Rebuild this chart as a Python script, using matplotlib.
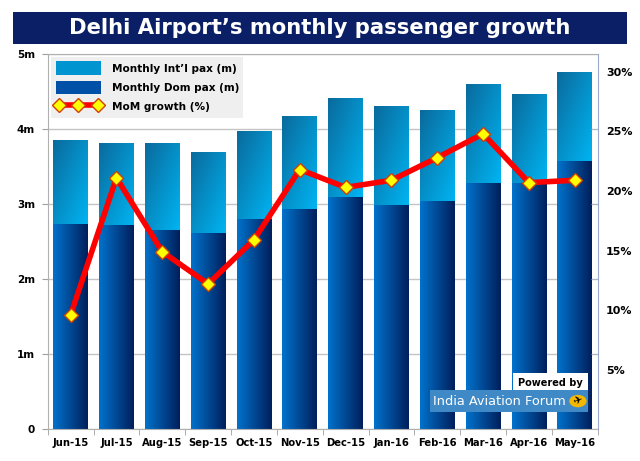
import numpy as np
import matplotlib
matplotlib.use("Agg")
import matplotlib.pyplot as plt
from matplotlib.patches import Rectangle, Circle, Patch
from matplotlib.lines import Line2D
from matplotlib.colors import to_rgb

# data
months = ["Jun-15", "Jul-15", "Aug-15", "Sep-15", "Oct-15", "Nov-15",
          "Dec-15", "Jan-16", "Feb-16", "Mar-16", "Apr-16", "May-16"]
dom_pax = [2.73, 2.72, 2.65, 2.62, 2.80, 2.94, 3.09, 2.99, 3.045, 3.28, 3.28, 3.575]
intl_pax = [1.125, 1.10, 1.16, 1.08, 1.17, 1.23, 1.32, 1.31, 1.21, 1.32, 1.18, 1.19]
mom_growth = [9.6, 21.1, 14.9, 12.2, 15.9, 21.8, 20.3, 20.9, 22.8, 24.8, 20.7, 20.9]

left_ticks = [0, 1, 2, 3, 4, 5]
left_labels = ["0", "1m", "2m", "3m", "4m", "5m"]
right_ticks = [5, 10, 15, 20, 25, 30]
right_labels = ["5%", "10%", "15%", "20%", "25%", "30%"]

NAVY = "#0b1f66"
INTL_DARK, INTL_LIGHT = "#0a6a9c", "#00b4f2"
DOM_LIGHT, DOM_DARK = "#0072cc", "#001f5c"

plt.rcParams["font.family"] = ["DejaVu Sans"]


def gradient_fill(ax, bar, c0, c1, diagonal=False):
    # paint a gradient image inside a bar patch, clipped to it
    x, y = bar.get_x(), bar.get_y()
    w, h = bar.get_width(), bar.get_height()
    n = 64
    u = np.linspace(0, 1, n)[None, :]
    v = np.linspace(0, 1, n)[:, None]   # 0 at bottom row (origin lower)
    t = u * np.ones_like(v)
    if diagonal:
        t = (u + (1 - v)) / 2.0
    c0, c1 = np.array(to_rgb(c0)), np.array(to_rgb(c1))
    img = c0[None, None, :] * (1 - t[..., None]) + c1[None, None, :] * t[..., None]
    im = ax.imshow(img, extent=(x, x + w, y, y + h), origin="lower",
                   aspect="auto", zorder=2, interpolation="bilinear")
    im.set_clip_path(bar)


fig = plt.figure(figsize=(6.4, 4.61), dpi=100)
fig.patch.set_facecolor("white")

# title bar
fig.patches.append(Rectangle((0.0203, 0.9046), 0.9594, 0.0694, transform=fig.transFigure,
                             facecolor=NAVY, edgecolor="none"))
fig.text(0.5, 0.939, "Delhi Airport\u2019s monthly passenger growth", color="white",
         fontsize=15.2, fontweight="bold", ha="center", va="center")

ax = fig.add_axes([0.0745, 0.0688, 0.8594, 0.8142])
x = np.arange(len(months))
bw = 0.76

dom_bars = ax.bar(x, dom_pax, bw, color="none", edgecolor="none", zorder=2)
intl_bars = ax.bar(x, intl_pax, bw, bottom=dom_pax, color="none", edgecolor="none", zorder=2)
for b in dom_bars:
    gradient_fill(ax, b, DOM_LIGHT, DOM_DARK)
for b in intl_bars:
    gradient_fill(ax, b, INTL_DARK, INTL_LIGHT, diagonal=True)

ax.set_xlim(-0.5, len(months) - 0.5)
ax.set_ylim(0, 5)
ax.set_yticks(left_ticks)
ax.set_yticklabels(left_labels, fontsize=7.5, fontweight="bold")
ax.set_xticks(x)
ax.set_xticklabels(months, fontsize=7.2, fontweight="bold")
ax.set_xticks(np.arange(len(months) + 1) - 0.5, minor=True)
ax.tick_params(axis="x", which="major", length=0, pad=6)
ax.tick_params(axis="x", which="minor", length=4, color="#a0a0a0", direction="out")
ax.tick_params(axis="y", length=4, color="#a0a0a0", pad=5)
ax.grid(axis="y", color="#c4c4c4", linewidth=1, zorder=0)
ax.set_axisbelow(True)
for s in ["left", "bottom", "top"]:
    ax.spines[s].set_color("#b0b0b0")
ax.spines["right"].set_visible(False)

ax2 = ax.twinx()
ax2.set_ylim(0, 31.5)
ax2.plot(x, mom_growth, color="#ff0000", linewidth=4, marker="D", markersize=7,
         markerfacecolor="#ffff00", markeredgecolor="#d04000", markeredgewidth=1, zorder=5)
ax2.set_yticks(right_ticks)
ax2.set_yticklabels(right_labels, fontsize=8, fontweight="bold")
ax2.set_yticks([31.5 * k / 5 for k in range(1, 5)], minor=True)
ax2.tick_params(axis="y", which="major", length=0, pad=6)
ax2.tick_params(axis="y", which="minor", length=5, direction="in", color="#a8b4d4")
ax2.spines["right"].set_color("#9aa8cc")
for s in ["left", "bottom", "top"]:
    ax2.spines[s].set_visible(False)

handles = [Patch(facecolor="#0094d0", edgecolor="none"),
           Patch(facecolor="#0050a8", edgecolor="none"),
           Line2D([0], [0], color="#ff0000", linewidth=4, marker="D", markersize=7,
                  markerfacecolor="#ffff00", markeredgecolor="#d04000")]
leg = ax2.legend(handles, ["Monthly Int\u2019l pax (m)", "Monthly Dom pax (m)", "MoM growth (%)"],
                 loc="upper left", bbox_to_anchor=(0.003, 0.997),
                 prop={"weight": "bold", "size": 7.6}, frameon=True, fancybox=False,
                 numpoints=3, handlelength=4.3, handleheight=1.6, labelspacing=0.55,
                 borderpad=0.4, handletextpad=1.0, borderaxespad=0.2)
leg.get_frame().set_facecolor("#ebebeb")
leg.get_frame().set_edgecolor("none")
leg.set_zorder(10)

# watermark
fig.patches.append(Rectangle((0.802, 0.150), 0.117, 0.041, transform=fig.transFigure,
                             facecolor="white", edgecolor="none", zorder=20))
fig.text(0.860, 0.170, "Powered by", fontsize=7, fontweight="bold", color="black",
         ha="center", va="center", zorder=21)
fig.patches.append(Rectangle((0.672, 0.106), 0.247, 0.048, transform=fig.transFigure,
                             facecolor="#3f8ac6", edgecolor="none", zorder=20))
fig.text(0.676, 0.130, "India Aviation Forum", fontsize=9.3, color="white",
         ha="left", va="center", zorder=21)
fig.patches.append(Circle((0.903, 0.130), 0.0135, transform=fig.transFigure,
                          facecolor="#f5b800", edgecolor="none", zorder=21))
fig.text(0.903, 0.130, "\u2708", fontsize=8, color="black", ha="center", va="center",
         rotation=20, zorder=22)

fig.savefig("out.png", dpi=100)
